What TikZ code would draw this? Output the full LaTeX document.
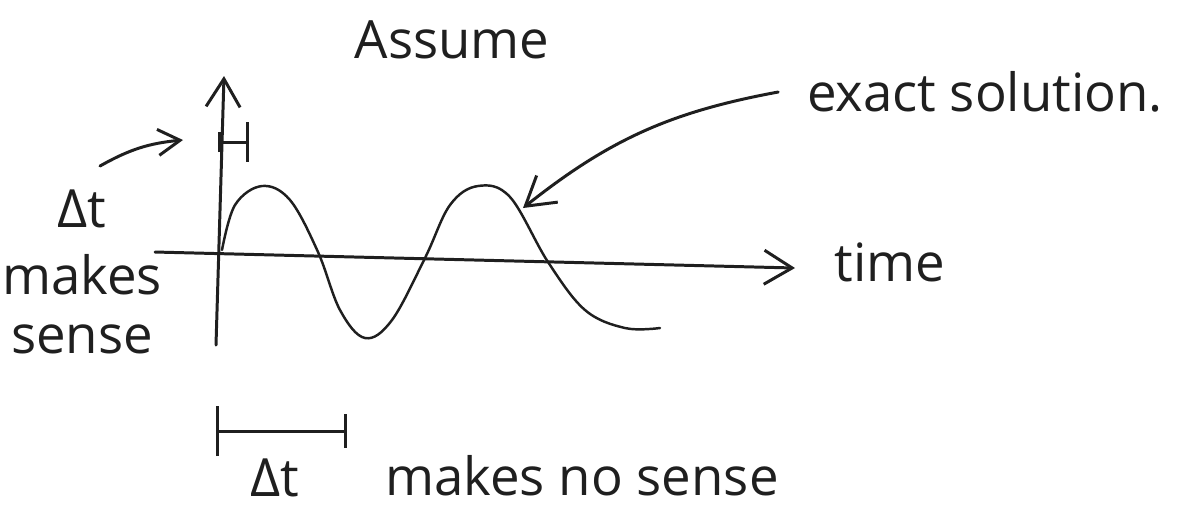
\documentclass[tikz,border=0pt]{standalone}
\usepackage{fontspec}
\setmainfont{Open Sans}
\usetikzlibrary{arrows.meta}

\begin{document}
\begin{tikzpicture}[x=0.01cm, y=-0.01cm, ink/.style={draw=black!88, line width=0.85pt, line cap=round}, hand/.style={text=black!88, font=\fontsize{15}{17}\selectfont, inner sep=2pt}, barb/.style={-{Straight Barb[length=2.8mm, width=3.4mm]}}]
	\useasboundingbox (0,0) rectangle (1183,517);
	\coordinate (ybot) at (216,345);
	\coordinate (ytop) at (224,76);
	\coordinate (xleft) at (155,252);
	\coordinate (xright) at (795,268);
	\coordinate (touch) at (523,208);
	\coordinate (tl) at (218,142);
	\coordinate (tr) at (249,142);
	\coordinate (lstart) at (100,166);
	\coordinate (lend) at (183,140);
	\coordinate (il) at (216,431);
	\coordinate (ir) at (347,431);
	\node[hand] (assume) at (452,40) {Assume};
	\node[hand] (sol) at (985,92) {exact solution.};
	\node[hand] (time) at (890,262) {time};
	\node[hand, align=center] (sense) at (82,272) {Δt\\[2pt]makes\\sense};
	\node[hand] (dt) at (275,478) {Δt};
	\node[hand] (nosense) at (582,476) {makes no sense};
	\draw[ink, barb] (ybot) -- (ytop);
	\draw[ink, barb] (xleft) -- (xright);
	\draw[ink, line width=0.7pt] plot[smooth, tension=0.6] coordinates {(222,250) (235,205) (262,186) (290,200) (318,252) (340,310) (365,338) (392,320) (425,258) (450,205) (478,186) (510,197) (548,262) (585,310) (625,328) (660,328)};
	\draw[ink, barb] ([xshift=-6pt]sol.west) to[bend right=14] (touch);
	\draw[ink, -{Straight Barb[length=2.2mm, width=2.6mm]}] (lstart) to[bend left=12] (lend);
	\draw[ink, {Bar[width=2mm]}-{Bar[width=4mm]}] (tl) -- (tr);
	\draw[ink, {Bar[width=5mm]}-{Bar[width=3.4mm]}] (il) -- (ir);
\end{tikzpicture}
\end{document}
